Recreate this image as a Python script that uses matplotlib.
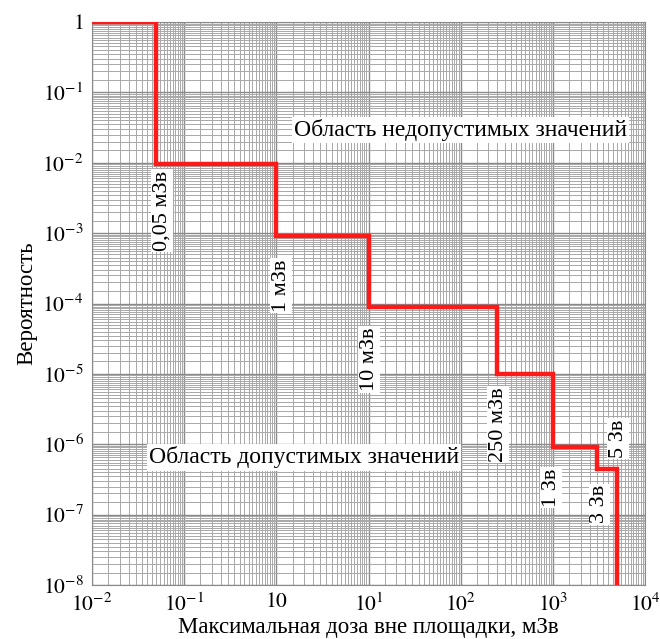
import numpy as np
import matplotlib
matplotlib.use("Agg")
import matplotlib.pyplot as plt
from matplotlib.ticker import LogLocator, FixedLocator, FixedFormatter, NullFormatter

plt.rcParams['font.family'] = ['Liberation Serif', 'DejaVu Serif']
plt.rcParams['mathtext.fontset'] = 'stix'

# Step curve: dose thresholds (mSv) and probability levels
dose_edges = [0.01, 0.05, 1, 10, 250, 1000, 3000, 5000]
prob_levels = [1.0, 9.6e-3, 9e-4, 9e-5, 1e-5, 9e-7, 4.4e-7, 1e-8]

x_ticks = [1e-2, 1e-1, 1, 1e1, 1e2, 1e3, 1e4]
x_ticklabels = [r'$10^{-2}$', r'$10^{-1}$', r'$10$', r'$10^{1}$', r'$10^{2}$', r'$10^{3}$', r'$10^{4}$']
y_ticks = [1, 1e-1, 1e-2, 1e-3, 1e-4, 1e-5, 1e-6, 1e-7, 1e-8]
y_ticklabels = [r'$1$', r'$10^{-1}$', r'$10^{-2}$', r'$10^{-3}$', r'$10^{-4}$', r'$10^{-5}$',
                r'$10^{-6}$', r'$10^{-7}$', r'$10^{-8}$']

step_labels = ['0,05 мЗв', '1 мЗв', '10 мЗв', '250 мЗв', '1 Зв', '3 Зв', '5 Зв']
label_xfactor = [1.15, 1.13, 1.02, 1.02, 0.96, 1.07, 1.02]
label_y = [2.1e-3, 1.8e-4, 1.6e-5, 1.9e-6, 2.4e-7, 1.4e-7, 1.2e-6]

fig = plt.figure(figsize=(6.6, 6.39), dpi=100)
ax = fig.add_axes([92 / 660, 54 / 639, 553 / 660, 563 / 639])
ax.set_xscale('log')
ax.set_yscale('log')
ax.set_xlim(1e-2, 1e4)
ax.set_ylim(1e-8, 1.0)

# build step path
xs, ys = [], []
for i in range(len(dose_edges) - 1):
    xs += [dose_edges[i], dose_edges[i + 1]]
    ys += [prob_levels[i], prob_levels[i]]
xs.append(dose_edges[-1])
ys.append(prob_levels[-1])
ax.plot(xs, ys, color='#ff1a1a', lw=3.2, zorder=5, solid_joinstyle='miter')

ax.xaxis.set_major_locator(FixedLocator(x_ticks))
ax.xaxis.set_major_formatter(FixedFormatter(x_ticklabels))
ax.yaxis.set_major_locator(FixedLocator(y_ticks))
ax.yaxis.set_major_formatter(FixedFormatter(y_ticklabels))
ax.xaxis.set_minor_locator(LogLocator(base=10, subs=np.arange(1.5, 10, 0.5), numticks=100))
ax.yaxis.set_minor_locator(LogLocator(base=10, subs=np.arange(1.5, 10, 0.5), numticks=100))
ax.xaxis.set_minor_formatter(NullFormatter())
ax.yaxis.set_minor_formatter(NullFormatter())
ax.tick_params(which='both', length=0, labelsize=15.5, pad=6)
ax.grid(which='major', color='#8a8a8a', lw=1.0)
ax.grid(which='minor', color='#a8a8a8', lw=0.7)
for s in ax.spines.values():
    s.set_color('#8a8a8a')

ax.set_xlabel('Максимальная доза вне площадки, мЗв', fontsize=16.5, labelpad=1)
ax.set_ylabel('Вероятность', fontsize=16.5, labelpad=4)

for xv, fx, yv, t in zip(dose_edges[1:], label_xfactor, label_y, step_labels):
    ax.text(xv * fx, yv, t, rotation=90, fontsize=16, ha='center', va='center', zorder=6,
            bbox=dict(facecolor='white', edgecolor='none', pad=1.0))

ax.text(100, 0.029, 'Область недопустимых значений', fontsize=17, ha='center', va='center',
        zorder=6, bbox=dict(facecolor='white', edgecolor='none', pad=1.5))
ax.text(2.0, 6.5e-7, 'Область допустимых значений', fontsize=17, ha='center', va='center',
        zorder=6, bbox=dict(facecolor='white', edgecolor='none', pad=1.5))

fig.savefig('out.png', dpi=100)
